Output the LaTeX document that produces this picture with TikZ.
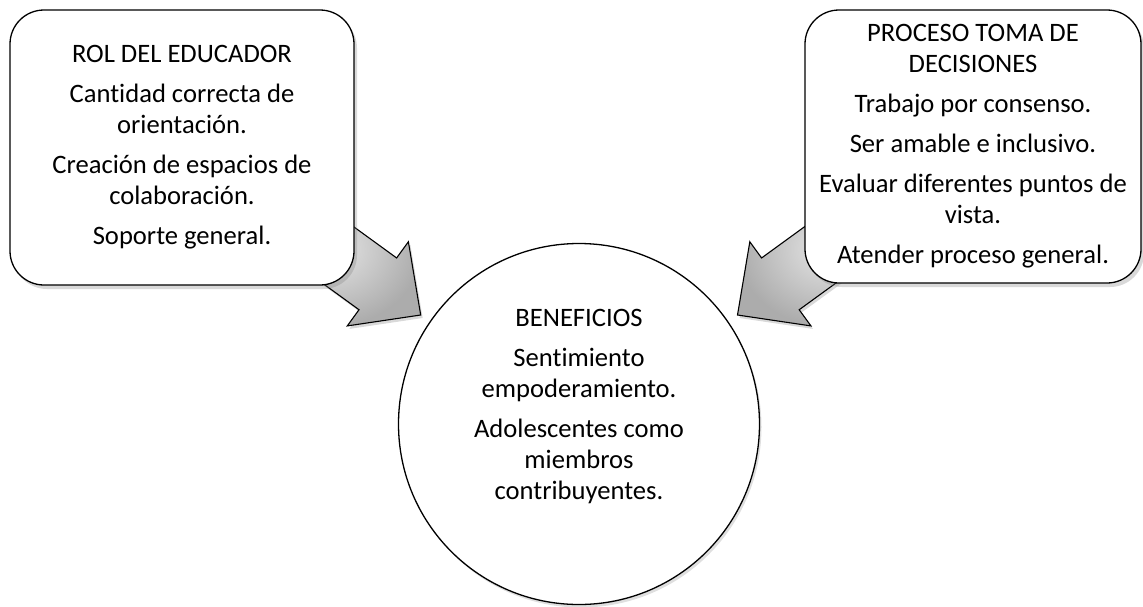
\documentclass[tikz,border=0pt]{standalone}
\usepackage{fontspec}
\setmainfont{Carlito}[Ligatures=NoCommon]
\usetikzlibrary{shadows}
\begin{document}
\begin{tikzpicture}[x=1pt,y=-1pt,
  txt/.style={font=\fontsize{26.6}{31}\selectfont, align=center, text=black},
  boxstyle/.style={draw=black, line width=1.3pt, fill=white, rounded corners=34pt,
    drop shadow={opacity=0.3, shadow xshift=3pt, shadow yshift=-4pt}},
  roundstyle/.style={draw=black, line width=1.3pt, fill=white, circle, minimum size=361pt, inner sep=0pt,
    drop shadow={opacity=0.25, shadow xshift=2pt, shadow yshift=-3pt}},
  arrowstyle/.style={draw=black, line width=1.1pt, line join=miter, inner color=gray!20, outer color=gray!65,
    drop shadow={opacity=0.3, shadow xshift=2pt, shadow yshift=-3pt}}]
\useasboundingbox (0,0) rectangle (1143,606);

% block arrows (drawn first, tails hidden behind the boxes)
\begin{scope}[shift={(420.7,315)}, rotate=-36]
  \path[arrowstyle] (0,0) -- (-53,52) -- (-53,32) -- (-200,32) -- (-200,-32) -- (-53,-32) -- (-53,-52) -- cycle;
\end{scope}
\begin{scope}[shift={(737.5,315)}, rotate=-144]
  \path[arrowstyle] (0,0) -- (-53,52) -- (-53,32) -- (-200,32) -- (-200,-32) -- (-53,-32) -- (-53,-52) -- cycle;
\end{scope}

\node[boxstyle, txt, minimum width=344pt, minimum height=275pt, inner sep=0pt] (educ) at (182,147.5)
  {ROL DEL EDUCADOR\\[9pt]Cantidad correcta de\\orientación.\\[9pt]Creación de espacios de\\colaboración.\\[9pt]Soporte general.};

\node[boxstyle, txt, minimum width=336pt, minimum height=273pt, inner sep=0pt] (proc) at (973,146.5)
  {PROCESO TOMA DE\\DECISIONES\\[9pt]Trabajo por consenso.\\[9pt]Ser amable e inclusivo.\\[9pt]Evaluar diferentes puntos de\\vista.\\[9pt]Atender proceso general.};

\node[roundstyle] (benef) at (579,424) {};
\node[txt] (beneftext) at (579,407)
  {BENEFICIOS\\[9pt]Sentimiento\\empoderamiento.\\[9pt]Adolescentes como\\miembros\\contribuyentes.};
\end{tikzpicture}
\end{document}
